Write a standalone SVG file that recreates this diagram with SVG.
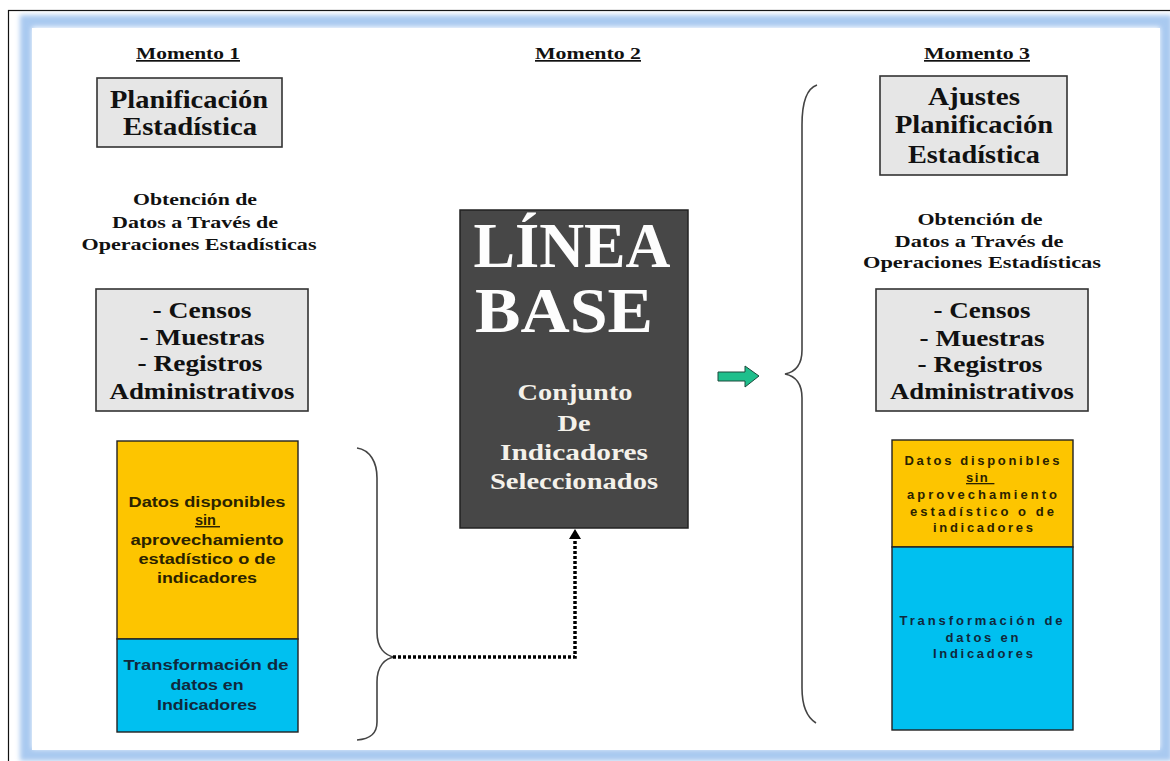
<svg xmlns="http://www.w3.org/2000/svg" width="1170" height="761" viewBox="0 0 1170 761">
<defs>
<filter id="blur" x="-5%" y="-5%" width="110%" height="110%"><feGaussianBlur stdDeviation="2.5"/></filter>
<style>
.serif{font-family:"Liberation Serif","Times New Roman",serif;font-weight:bold;fill:#111;text-anchor:middle}
.mom{font-size:17px;text-decoration:underline}
.title{font-size:25px}
.obt{font-size:17px}
.cen{font-size:23px}
.big{font-size:64px;fill:#fdfdfd}
.mid{font-size:24px;fill:#f4f1ea}
.sans{font-family:"Liberation Sans",Arial,sans-serif;font-weight:bold;text-anchor:middle}
.ls{font-size:14.5px}
.rs{font-size:13px}
.yt{fill:#2a2200}
.bt{fill:#10283c}
.gbox{fill:#e6e6e6;stroke:#333;stroke-width:1.6}
.ybox{fill:#fdc500;stroke:#222;stroke-width:1.4}
.bbox{fill:#00c0f0;stroke:#222;stroke-width:1.4}
.brace{fill:none;stroke:#444;stroke-width:1.6}
</style>
</defs>
<rect x="0" y="0" width="1170" height="761" fill="#ffffff"/>
<rect x="8.5" y="10.5" width="1175" height="760" fill="none" stroke="#111" stroke-width="1.2"/>
<rect x="26" y="21" width="1140" height="734" fill="none" stroke="#a9c9f0" stroke-width="12" filter="url(#blur)"/>
<rect x="32" y="28" width="1128" height="722" fill="#ffffff"/>

<g id="momento1"><text class="serif mom" x="188" y="59" textLength="104" lengthAdjust="spacingAndGlyphs">Momento 1</text></g>
<g id="momento2"><text class="serif mom" x="588" y="59" textLength="106" lengthAdjust="spacingAndGlyphs">Momento 2</text></g>
<g id="momento3"><text class="serif mom" x="977" y="59" textLength="106" lengthAdjust="spacingAndGlyphs">Momento 3</text></g>

<g id="planificacion">
<rect class="gbox" x="97" y="78" width="185" height="69"/>
<text class="serif title" x="189" y="108" textLength="158" lengthAdjust="spacingAndGlyphs">Planificación</text>
<text class="serif title" x="190" y="135" textLength="134" lengthAdjust="spacingAndGlyphs">Estadística</text>
</g>

<g id="obtencion1">
<text class="serif obt" x="195" y="205" textLength="124" lengthAdjust="spacingAndGlyphs">Obtención de</text>
<text class="serif obt" x="195" y="228" textLength="166" lengthAdjust="spacingAndGlyphs">Datos a Través de</text>
<text class="serif obt" x="199" y="250" textLength="235" lengthAdjust="spacingAndGlyphs">Operaciones Estadísticas</text>
</g>

<g id="fuentes1">
<rect class="gbox" x="96" y="289" width="212" height="122"/>
<text class="serif cen" x="202" y="318" textLength="99" lengthAdjust="spacingAndGlyphs">- Censos</text>
<text class="serif cen" x="202" y="345" textLength="125" lengthAdjust="spacingAndGlyphs">- Muestras</text>
<text class="serif cen" x="200" y="371" textLength="125" lengthAdjust="spacingAndGlyphs">- Registros</text>
<text class="serif cen" x="202" y="399" textLength="185" lengthAdjust="spacingAndGlyphs">Administrativos</text>
</g>

<g id="datos1">
<rect class="ybox" x="117" y="441" width="181" height="198"/>
<text class="sans ls yt" x="207" y="507" textLength="157" lengthAdjust="spacingAndGlyphs">Datos disponibles</text>
<text class="sans ls yt" x="195" y="525" style="text-anchor:start;text-decoration:underline" xml:space="preserve">sin </text>
<text class="sans ls yt" x="207" y="545" textLength="153" lengthAdjust="spacingAndGlyphs">aprovechamiento</text>
<text class="sans ls yt" x="207" y="564" textLength="137" lengthAdjust="spacingAndGlyphs">estadístico o de</text>
<text class="sans ls yt" x="207" y="583" textLength="100" lengthAdjust="spacingAndGlyphs">indicadores</text>
</g>
<g id="transformacion1">
<rect class="bbox" x="117" y="639" width="181" height="93"/>
<text class="sans ls bt" x="206" y="670" textLength="165" lengthAdjust="spacingAndGlyphs">Transformación de</text>
<text class="sans ls bt" x="207" y="690" textLength="73" lengthAdjust="spacingAndGlyphs">datos en</text>
<text class="sans ls bt" x="207" y="710" textLength="100" lengthAdjust="spacingAndGlyphs">Indicadores</text>
</g>

<g id="lineabase">
<rect x="460" y="210" width="228" height="318" fill="#474747" stroke="#222" stroke-width="1.5"/>
<text class="serif big" x="572" y="267" textLength="197" lengthAdjust="spacingAndGlyphs">LÍNEA</text>
<text class="serif big" x="564" y="332" textLength="178" lengthAdjust="spacingAndGlyphs">BASE</text>
<text class="serif mid" x="575" y="400" textLength="115" lengthAdjust="spacingAndGlyphs">Conjunto</text>
<text class="serif mid" x="574" y="431" textLength="33" lengthAdjust="spacingAndGlyphs">De</text>
<text class="serif mid" x="574" y="460" textLength="148" lengthAdjust="spacingAndGlyphs">Indicadores</text>
<text class="serif mid" x="574" y="489" textLength="168" lengthAdjust="spacingAndGlyphs">Seleccionados</text>
</g>

<g id="ajustes">
<rect class="gbox" x="880" y="76" width="187" height="99"/>
<text class="serif title" x="974" y="105" textLength="92" lengthAdjust="spacingAndGlyphs">Ajustes</text>
<text class="serif title" x="974" y="133" textLength="158" lengthAdjust="spacingAndGlyphs">Planificación</text>
<text class="serif title" x="974" y="163" textLength="132" lengthAdjust="spacingAndGlyphs">Estadística</text>
</g>

<g id="obtencion3">
<text class="serif obt" x="980" y="225" textLength="125" lengthAdjust="spacingAndGlyphs">Obtención de</text>
<text class="serif obt" x="979" y="247" textLength="169" lengthAdjust="spacingAndGlyphs">Datos a Través de</text>
<text class="serif obt" x="982" y="268" textLength="238" lengthAdjust="spacingAndGlyphs">Operaciones Estadísticas</text>
</g>

<g id="fuentes3">
<rect class="gbox" x="876" y="289" width="212" height="122"/>
<text class="serif cen" x="982" y="318" textLength="97" lengthAdjust="spacingAndGlyphs">- Censos</text>
<text class="serif cen" x="982" y="346" textLength="125" lengthAdjust="spacingAndGlyphs">- Muestras</text>
<text class="serif cen" x="980" y="372" textLength="125" lengthAdjust="spacingAndGlyphs">- Registros</text>
<text class="serif cen" x="982" y="399" textLength="184" lengthAdjust="spacingAndGlyphs">Administrativos</text>
</g>

<g id="datos3">
<rect class="ybox" x="892" y="440" width="181" height="107"/>
<text class="sans rs yt" x="982" y="465" textLength="155" lengthAdjust="spacing">Datos disponibles</text>
<text class="sans rs yt" x="966" y="482" style="text-anchor:start;text-decoration:underline;letter-spacing:1.5px" xml:space="preserve">sin </text>
<text class="sans rs yt" x="982" y="499" textLength="150" lengthAdjust="spacing">aprovechamiento</text>
<text class="sans rs yt" x="982" y="516" textLength="144" lengthAdjust="spacing">estadístico o de</text>
<text class="sans rs yt" x="983" y="532" textLength="100" lengthAdjust="spacing">indicadores</text>
</g>
<g id="transformacion3">
<rect class="bbox" x="892" y="547" width="181" height="183"/>
<text class="sans rs bt" x="981" y="625" textLength="163" lengthAdjust="spacing">Transformación de</text>
<text class="sans rs bt" x="982" y="642" textLength="73" lengthAdjust="spacing">datos en</text>
<text class="sans rs bt" x="983" y="658" textLength="100" lengthAdjust="spacing">Indicadores</text>
</g>

<g id="connectors">
<path class="brace" d="M357,448 C370,450 377,462 377,478 L377,632 C377,648 385,656 395,657 C385,658 377,666 377,682 L377,722 C377,734 370,739 357,740"/>
<path class="brace" d="M817,85 C808,88 802,100 802,125 L802,350 C802,365 795,372 785,374 C795,376 802,383 802,398 L802,688 C802,708 808,718 816,723"/>
<path d="M393,657 H575 V538" fill="none" stroke="#000" stroke-width="3.5" stroke-dasharray="3,2"/>
<polygon points="575,529 569,539 581,539" fill="#000"/>
<polygon points="718,372 745,372 745,366 759,376 745,387 745,381 718,381" fill="#1fbf8c" stroke="#1d4a3c" stroke-width="1"/>
</g>
</svg>
